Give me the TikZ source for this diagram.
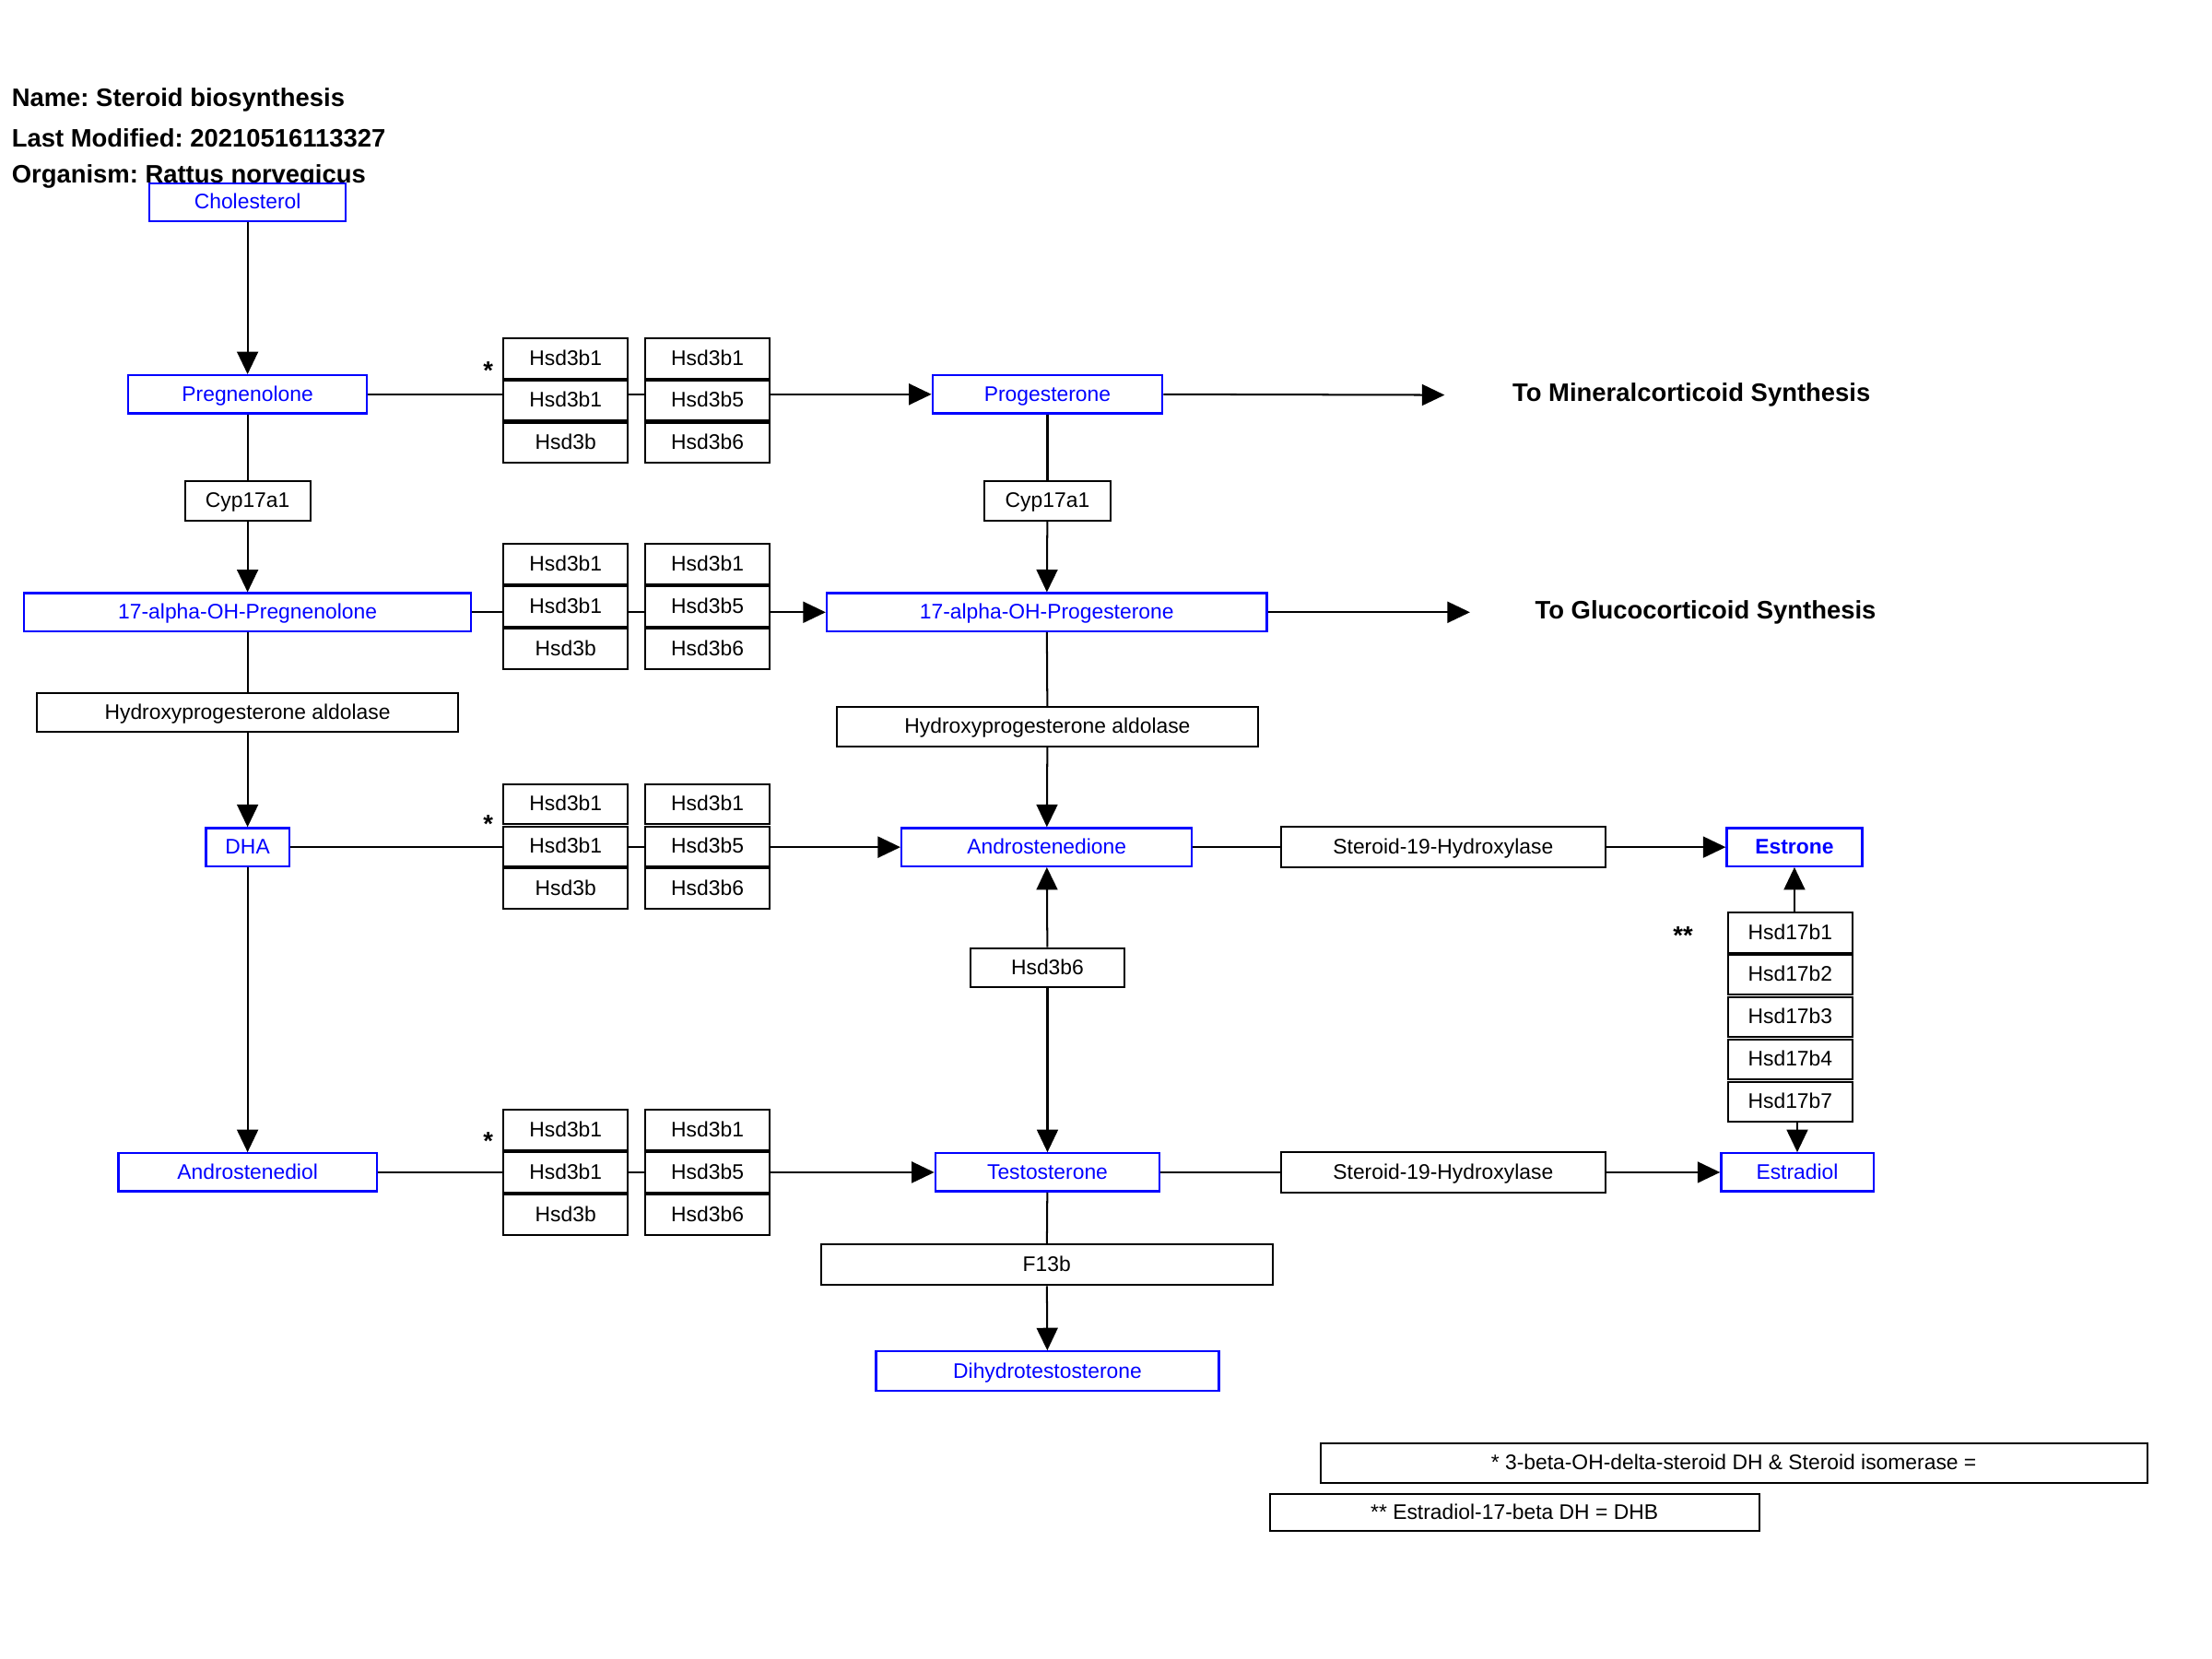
\documentclass[tikz,border=0pt]{standalone}
\usepackage{fontspec}
\setmainfont{Liberation Sans}
\usetikzlibrary{arrows.meta}
\definecolor{pwblue}{RGB}{0,0,255}
\frenchspacing
\begin{document}
\begin{tikzpicture}[x=0.02cm,y=-0.02cm,
 gene/.style={draw=black, line width=0.75pt, fill=white, inner sep=0pt, font=\fontsize{8.5}{10}\selectfont, text=black, minimum height=0.56cm, text height=0.72em, text depth=0.18em},
 cell/.style={gene, minimum width=1.76cm, minimum height=0.57cm},
 met/.style={draw=pwblue, line width=0.85pt, fill=white, inner sep=0pt, font=\fontsize{8.5}{10}\selectfont, text=pwblue, minimum height=0.54cm, text height=0.72em, text depth=0.18em},
 hdr/.style={font=\fontsize{10.2}{12}\bfseries\selectfont, inner sep=0pt},
 conn/.style={line width=0.75pt},
 arr/.style={conn, -{Triangle[length=0.32cm,width=0.3cm]}},
]
\useasboundingbox (0,0) rectangle (1568,1176);

% title
\node[hdr, anchor=west] (t1) at (8,71) {Name: Steroid biosynthesis};
\node[hdr, anchor=west] (t2) at (8,98) {Last Modified: 20210516113327};
\node[hdr, anchor=west] (t3) at (8,125) {Organism: Rattus norvegicus};

% left column metabolites
\node[met, minimum width=2.78cm] (chol) at (175.5,143.5) {Cholesterol};
\node[met, minimum width=3.38cm] (preg) at (175.5,279.5) {Pregnenolone};
\node[gene, minimum width=1.78cm] (cypL) at (175.5,355) {Cyp17a1};
\node[met, minimum width=6.34cm] (ohpreg) at (175.5,434) {17-alpha-OH-Pregnenolone};
\node[gene, minimum width=5.98cm] (aldL) at (175.5,505) {Hydroxyprogesterone aldolase};
\node[met, minimum width=1.18cm] (dha) at (175.5,600.5) {DHA};
\node[met, minimum width=3.66cm] (adiol) at (175.5,831) {Androstenediol};

% middle column
\node[met, minimum width=3.26cm] (prog) at (742.5,279.5) {Progesterone};
\node[gene, minimum width=1.78cm] (cypR) at (742.5,355) {Cyp17a1};
\node[met, minimum width=6.24cm] (ohprog) at (742,434) {17-alpha-OH-Progesterone};
\node[gene, minimum width=5.98cm] (aldR) at (742.5,515) {Hydroxyprogesterone aldolase};
\node[met, minimum width=4.12cm] (adione) at (742,600.5) {Androstenedione};
\node[gene, minimum width=2.18cm] (hsdmid) at (742.5,686) {Hsd3b6};
\node[met, minimum width=3.18cm] (testo) at (742.5,831) {Testosterone};
\node[gene, minimum width=6.4cm, minimum height=0.58cm] (f13b) at (742,896.5) {F13b};
\node[met, minimum width=4.86cm, minimum height=0.56cm] (dht) at (742.5,972) {Dihydrotestosterone};

% right
\node[gene, minimum width=4.6cm, minimum height=0.58cm] (s19a) at (1023,600.5) {Steroid-19-Hydroxylase};
\node[met, minimum width=1.92cm, font=\fontsize{8.5}{10}\bfseries\selectfont] (estrone) at (1272,600.5) {Estrone};
\node[gene, minimum width=4.6cm, minimum height=0.58cm] (s19b) at (1023,831) {Steroid-19-Hydroxylase};
\node[met, minimum width=2.16cm] (estradiol) at (1274,831) {Estradiol};

\node[cell] (k1) at (1269,661) {Hsd17b1};
\node[cell] (k2) at (1269,691) {Hsd17b2};
\node[cell] (k3) at (1269,721) {Hsd17b3};
\node[cell] (k4) at (1269,751) {Hsd17b4};
\node[cell] (k5) at (1269,781) {Hsd17b7};
\node[hdr] (st5) at (1193,663) {**};

\node[hdr] (tomintxt) at (1199,280) {To Mineralcorticoid Synthesis};
\node[hdr] (toglutxt) at (1209,434) {To Glucocorticoid Synthesis};
\coordinate (tomin) at (1024,280);
\coordinate (toglu) at (1042,434);

% enzyme grids
\foreach \g/\y in {1/284, 2/430, 3/600, 4/831}{
  \node[cell] (g\g a) at (401,\y-30) {Hsd3b1};
  \node[cell] (g\g b) at (401,\y) {Hsd3b1};
  \node[cell] (g\g c) at (401,\y+30) {Hsd3b};
  \node[cell] (h\g a) at (501.5,\y-30) {Hsd3b1};
  \node[cell] (h\g b) at (501.5,\y) {Hsd3b5};
  \node[cell] (h\g c) at (501.5,\y+30) {Hsd3b6};
}
\node[hdr] (st1) at (346,263) {*};
\node[hdr] (st3) at (346,584) {*};
\node[hdr] (st4) at (346,809) {*};

% legend
\node[gene, minimum width=11.72cm, minimum height=0.56cm] (leg1) at (1229,1037) {* 3-beta-OH-delta-steroid DH \& Steroid isomerase =};
\node[gene, minimum width=6.94cm, minimum height=0.52cm] (leg2) at (1073.5,1072) {** Estradiol-17-beta DH = DHB};

% connectors: left column
\draw[arr] (chol) -- (preg);
\draw[conn] (preg) -- (cypL);
\draw[arr] (cypL) -- (ohpreg);
\draw[conn] (ohpreg) -- (aldL);
\draw[arr] (aldL) -- (dha);
\draw[arr] (dha) -- (adiol);

% middle column
\draw[conn] (prog) -- (cypR);
\draw[arr] (cypR) -- (ohprog);
\draw[conn] (ohprog) -- (aldR);
\draw[arr] (aldR) -- (adione);
\draw[arr] (hsdmid) -- (adione);
\draw[arr] (hsdmid) -- (testo);
\draw[conn] (testo) -- (f13b);
\draw[arr] (f13b) -- (dht);

% horizontal through grids
\draw[conn] (preg.east) -- (preg.east -| g1b.west);
\draw[conn] (preg.east -| g1b.east) -- (preg.east -| h1b.west);
\draw[arr] (preg.east -| h1b.east) -- (prog.west);

\draw[conn] (ohpreg.east) -- (ohpreg.east -| g2b.west);
\draw[conn] (ohpreg.east -| g2b.east) -- (ohpreg.east -| h2b.west);
\draw[arr] (ohpreg.east -| h2b.east) -- (ohprog.west);

\draw[conn] (dha.east) -- (dha.east -| g3b.west);
\draw[conn] (dha.east -| g3b.east) -- (dha.east -| h3b.west);
\draw[arr] (dha.east -| h3b.east) -- (adione.west);

\draw[conn] (adiol.east) -- (adiol.east -| g4b.west);
\draw[conn] (adiol.east -| g4b.east) -- (adiol.east -| h4b.west);
\draw[arr] (adiol.east -| h4b.east) -- (testo.west);

% to other pathways
\draw[arr] (prog.east) -- (tomin);
\draw[arr] (ohprog.east) -- (toglu);

% estrogen
\draw[conn] (adione.east) -- (s19a.west);
\draw[arr] (s19a.east) -- (estrone.west);
\draw[conn] (testo.east) -- (s19b.west);
\draw[arr] (s19b.east) -- (estradiol.west);
\draw[arr] (k1.north -| estrone.south) -- (estrone.south);
\draw[arr] (k5.south -| estradiol.north) -- (estradiol.north);
\end{tikzpicture}
\end{document}
